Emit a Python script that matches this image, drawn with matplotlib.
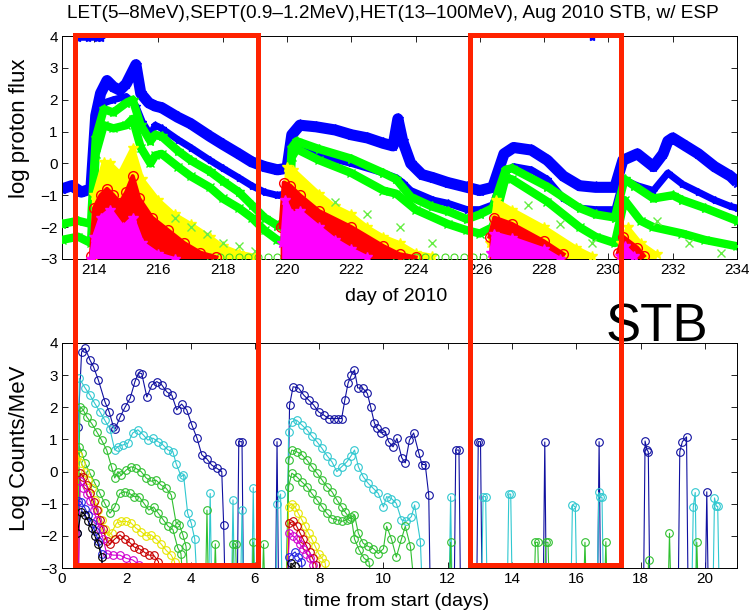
import numpy as np
import matplotlib
matplotlib.use("Agg")
import matplotlib.pyplot as plt
from matplotlib.patches import Rectangle

plt.rcParams['font.family'] = ['Liberation Sans', 'DejaVu Sans']

# ---------------- top panel data (day of 2010, log proton flux) ----------------
blue_hi_d = [213.0, 213.3, 213.6, 213.9, 214.05, 214.2, 214.4, 214.6, 214.8, 215.0, 215.2, 215.3, 215.45, 215.7, 215.9,
             216.1, 216.6, 217.0, 217.6, 218.0, 218.5, 218.9, 219.3, 219.7, 220.0, 220.15, 220.4, 220.9, 221.5, 222.0,
             222.5, 223.0, 223.3, 223.45, 223.6, 223.85, 224.2, 224.55, 225.0, 225.6, 226.0, 226.4, 226.75, 227.05,
             227.6, 228.1, 228.6, 229.1, 229.6, 230.2, 230.45, 230.9, 231.4, 231.7, 231.85, 232.0, 232.4, 232.8,
             233.3, 233.8, 234.0]
blue_hi_v = [-0.8, -0.7, -0.9, -0.8, 1.5, 2.2, 2.6, 2.4, 2.3, 2.5, 2.9, 3.1, 2.2, 1.9, 1.8,
             1.75, 1.45, 1.25, 0.85, 0.6, 0.3, 0.05, -0.1, -0.2, -0.15, 0.9, 1.2, 1.15, 1.05, 0.9,
             0.8, 0.63, 0.55, 1.4, 0.7, 0.0, -0.35, -0.45, -0.6, -0.75, -0.85, -0.75, 0.3, 0.5,
             0.42, 0.1, -0.4, -0.7, -0.75, -0.75, 0.1, 0.3, -0.1, 0.3, 0.7, 0.8, 0.55, 0.3,
             -0.1, -0.4, -0.6]

blue_lo_d = [214.05, 214.3, 214.6, 215.0, 215.3, 215.5, 215.75, 215.9, 216.1, 216.6, 217.0, 217.6, 218.0, 218.5,
             218.9, 219.3, 219.7, 220.0, 220.15, 220.3, 221.0, 222.0, 223.0, 223.4, 223.6, 223.85, 224.55, 225.0,
             225.6, 226.0, 226.4, 226.75, 227.05, 227.6, 228.1, 228.6, 229.1, 229.6, 230.2, 230.45, 230.9, 231.4,
             231.85, 232.3, 232.8, 233.3, 233.8, 234.0]
blue_lo_v = [1.2, 1.9, 2.0, 2.1, 1.8, 1.3, 0.9, 1.2, 1.1, 0.75, 0.5, 0.1, -0.15, -0.45,
             -0.7, -0.9, -1.0, -0.95, 0.3, 0.45, 0.25, 0.0, -0.3, -0.45, -0.6, -0.85, -1.15, -1.25,
             -1.45, -1.45, -1.3, -0.3, -0.1, -0.2, -0.5, -1.1, -1.4, -1.45, -1.45, -0.5, -0.7, -0.85,
             -0.3, -0.65, -0.9, -1.15, -1.35, -1.4]

green_hi_d = [213.0, 213.5, 213.9, 214.05, 214.3, 214.6, 215.0, 215.2, 215.45, 215.75, 215.9, 216.1, 216.6, 217.0,
              217.6, 218.0, 218.5, 218.9, 219.3, 219.7, 220.0, 220.15, 220.3, 221.0, 222.0, 223.0, 223.4, 223.85,
              224.5, 225.0, 225.6, 226.0, 226.4, 226.8, 227.0, 228.1, 229.1, 229.6, 230.2, 230.5, 230.8, 231.4,
              232.0, 232.3, 233.0, 234.0]
green_hi_v = [-1.9, -1.8, -1.9, 0.8, 1.7, 1.6, 1.9, 2.0, 1.2, 0.7, 0.9, 0.85, 0.4, 0.1,
              -0.25, -0.55, -0.9, -1.3, -1.7, -1.95, -1.8, 0.5, 0.7, 0.45, 0.15, -0.3, -0.5, -1.05,
              -1.35, -1.5, -1.75, -1.6, -1.4, -0.2, -0.15, -0.73, -1.4, -1.6, -1.7, -0.5, -0.7, -1.1,
              -1.0, -1.15, -1.4, -1.8]

green_lo_d = [213.0, 213.5, 213.9, 214.05, 214.3, 214.6, 215.0, 215.2, 215.45, 215.75, 215.9, 216.1, 216.6, 217.0,
              217.6, 218.0, 218.5, 218.9, 219.3, 219.7, 220.0, 220.15, 220.3, 221.0, 222.0, 223.0, 223.4, 224.0,
              225.0, 225.6, 226.0, 226.4, 226.8, 227.0, 228.1, 229.1, 229.6, 230.2, 230.5, 231.0, 231.4, 232.3,
              233.0, 234.0]
green_lo_v = [-2.4, -2.3, -2.5, 0.3, 1.2, 1.1, 1.2, 1.4, 0.5, 0.0, 0.25, 0.3, -0.1, -0.4,
              -0.75, -1.1, -1.4, -1.7, -2.1, -2.4, -2.5, 0.2, 0.45, 0.1, -0.3, -0.85, -0.95, -1.45,
              -1.9, -2.1, -2.2, -2.0, -0.45, -0.5, -1.2, -2.0, -2.3, -2.5, -1.15, -1.8, -2.0, -2.2,
              -2.4, -2.6]

yellow_d = [213.95, 214.0, 214.3, 214.5, 214.8, 215.2, 215.5, 216.0, 216.5, 217.0, 217.6, 218.0, 218.5, 219.0, np.nan,
            219.9, 220.0, 220.2, 221.0, 221.5, 222.0, 222.5, 223.0, 223.5, 224.0, 224.5, np.nan,
            226.3, 226.5, 227.0, 228.0, 229.0, 229.5, np.nan, 230.4, 230.6, 231.0, 231.5]
yellow_v = [-3.0, -1.0, 0.05, 0.0, -0.3, 0.5, -0.5, -1.15, -1.6, -1.9, -2.3, -2.6, -2.8, -2.9, np.nan,
            -2.5, -0.1, -0.2, -0.95, -1.35, -1.6, -2.0, -2.3, -2.5, -2.8, -2.9, np.nan,
            -2.5, -1.15, -1.45, -2.0, -2.65, -2.9, np.nan, -2.5, -2.0, -2.5, -2.85]

red_d = [213.9, 214.0, 214.2, 214.4, 214.6, 214.8, 215.0, 215.2, 215.4, 215.8, 216.3, 216.8, 217.3, 217.8, np.nan,
         219.8, 219.9, 220.1, 220.4, 221.0, 222.0, 223.0, 223.5, 224.0, np.nan,
         226.3, 226.45, 227.0, 228.0, 228.6, np.nan, 230.3, 230.45, 230.9, 231.1]
red_v = [-2.9, -1.4, -1.0, -0.8, -1.0, -1.25, -0.9, -0.4, -1.1, -1.7, -2.1, -2.5, -2.8, -2.95, np.nan,
         -2.0, -0.6, -0.7, -1.0, -1.5, -2.0, -2.6, -2.85, -2.95, np.nan,
         -2.3, -1.7, -1.9, -2.45, -2.85, np.nan, -2.8, -2.3, -2.65, -2.9]

mag_d = [213.9, 214.0, 214.2, 214.5, 214.9, 215.2, 215.5, 216.0, 216.5, np.nan,
         219.85, 219.95, 220.15, 220.4, 221.0, 221.5, 222.0, 222.5, np.nan,
         226.35, 226.45, 227.0, 228.0, 228.5, np.nan, 230.35, 230.5, 230.8]
mag_v = [-3.0, -2.3, -1.7, -1.45, -2.0, -1.7, -2.5, -2.85, -3.0, np.nan,
         -2.5, -1.15, -1.6, -1.5, -2.0, -2.4, -2.7, -2.95, np.nan,
         -2.8, -2.2, -2.35, -2.7, -3.0, np.nan, -2.9, -2.6, -2.9]

greenx_d = [216.5, 217.0, 217.5, 218.0, 218.5, 219.0, 221.5, 222.5, 223.5, 224.5, 227.5, 228.5, 229.5,
            231.5, 232.5, 233.5]
greenx_v = [-1.7, -2.0, -2.2, -2.5, -2.6, -2.75, -1.2, -1.6, -2.0, -2.5, -1.3, -1.9, -2.5,
            -1.8, -2.5, -2.8]

floor_d = [217.6, 217.9, 218.2, 218.5, 218.8, 219.1, 219.4, 219.7, 223.4, 223.7, 224.0, 224.3, 224.6,
           224.9, 225.2, 225.5, 225.8, 226.1]
floor_v = [-2.93, -2.93, -2.93, -2.93, -2.93, -2.93, -2.93, -2.93, -2.93, -2.93, -2.93, -2.93, -2.93,
           -2.93, -2.93, -2.93, -2.93, -2.93]

sat_d = [213.5, 213.8, 214.1, 214.2, np.nan, 229.5]
sat_v = [3.95, 3.95, 3.95, 3.95, np.nan, 3.98]

# ---------------- bottom panel data (days from start, log counts/MeV) ----------------
navy_t = [0.40, 0.48, 0.50, 0.61, 0.72, 0.87, 0.98, 1.13, 1.34, 1.47, 1.60, 1.65, 1.81, 1.96, 2.12, 2.27, 2.38, 2.48,
          2.64, 2.80, 2.95, 3.10, 3.26, 3.42, 3.57, 3.72, 3.88, 4.04, 4.20, 4.35, 4.50, 4.66, 4.82, 4.97, 5.03, 5.08,
          5.45, 5.50, 5.60, 5.65,
          6.64, 6.69, 6.74,
          6.98, 7.08, 7.19, 7.36, 7.52, 7.67, 7.83, 7.98, 8.14, 8.30, 8.45, 8.60, 8.70, 8.80, 8.90, 9.00, 9.10, 9.20,
          9.35, 9.50, 9.60, 9.72, 9.80, 9.93, 10.06, 10.16, 10.30, 10.42, 10.57, 10.68, 10.81, 10.94, 11.10, 11.20,
          11.30, 11.41, 11.46,
          12.20, 12.25, 12.35, 12.40,
          12.90, 12.95, 13.02, 13.07,
          14.97, 15.02, 15.07,
          16.66, 16.71, 16.76,
          18.09, 18.14, 18.20, 18.24, 18.29,
          19.17, 19.22, 19.30, 19.43, 19.48,
          20.01, 20.06, 20.11]
navy_v = [-4, -1.9, 1.4, 3.72, 3.84, 3.47, 3.26, 2.85, 2.16, 1.85, 1.39, 1.32, 1.7, 2.0, 2.28, 2.8, 3.07, 3.05,
          2.32, 2.7, 2.8, 2.7, 2.48, 2.37, 1.92, 2.1, 1.92, 1.45, 1.04, 0.52, 0.4, 0.2, 0.1, 0.0, -1.66, -4,
          -4, 0.93, 0.93, -4,
          -4, 0.93, -4,
          -4, 2.07, 2.64, 2.6, 2.38, 2.23, 2.07, 1.86, 1.76, 1.65, 1.65, 1.65, 1.65, 2.23, 2.75, 3.0, 3.16, 2.6,
          2.6, 2.43, 2.02, 1.51, 1.35, 1.2, 1.25, 0.93, 0.77, 1.03, 0.43, 0.27, 0.98, 1.2, 0.58, 0.22,
          0.22, -0.73, -4,
          -4, 0.67, 0.67, -4,
          -4, 0.93, 0.93, -4,
          -4, 0.92, -4,
          -4, 0.93, -4,
          -4, 0.95, 0.67, 0.62, -4,
          -4, 0.62, 0.93, 1.08, -4,
          -4, -0.63, -4]

cyan_t = [0.45, 0.54, 0.72, 0.87, 1.02, 1.18, 1.33, 1.49, 1.64, 1.74, 1.90, 2.05, 2.20, 2.36, 2.52, 2.67, 2.83, 2.99,
          3.14, 3.30, 3.45, 3.55, 3.71, 3.78, 3.91, 4.02, 4.13, 4.23,
          4.56, 4.61, 4.66,
          5.27, 5.32, 5.37,
          5.55, 5.60, 5.65,
          5.90, 5.95, 6.00,
          6.65, 6.70, 6.80, 6.85,
          6.98, 7.05, 7.15, 7.30, 7.46, 7.62, 7.77, 7.93, 8.09, 8.24, 8.40, 8.55, 8.70, 8.86, 9.00, 9.10, 9.22, 9.37,
          9.53, 9.69, 9.84, 10.00, 10.10, 10.25, 10.40, 10.56, 10.71, 10.87, 10.97, 11.15, 11.22,
          12.04, 12.09, 12.14,
          13.05, 13.10, 13.18, 13.23,
          13.85, 13.90, 13.96, 14.01,
          15.83, 15.88, 15.97, 16.02,
          16.65, 16.70, 16.74, 16.80, 16.85,
          19.59, 19.64, 19.70, 19.75,
          20.25, 20.30, 20.36, 20.40, 20.45]
cyan_v = [-4, 2.9, 2.6, 2.38, 2.12, 1.86, 1.6, 1.33, 0.67, 0.78, 0.83, 0.88, 1.2, 1.3, 1.15, 0.98, 1.04, 0.93,
          0.83, 0.67, 0.62, 0.25, -0.16, -0.1, -1.3, -1.6, -2.1, -4,
          -4, -0.68, -4,
          -4, -0.88, -4,
          -4, -1.2, -4,
          -4, -0.5, -4,
          -4, -1.0, -0.7, -4,
          -4, 1.24, 1.55, 1.6, 1.45, 1.3, 1.1, 0.93, 0.72, 0.5, 0.3, 0.0, 0.15, 0.3, 0.5, 0.67, 0.15, -0.16,
          -0.37, -0.53, -0.68, -1.1, -0.78, -0.84, -0.99, -1.5, -1.55, -1.4, -1.04, -2.18, -4,
          -4, -0.78, -4,
          -4, -0.78, -0.78, -4,
          -4, -0.7, -0.7, -4,
          -4, -1.04, -1.1, -4,
          -4, -0.65, -0.8, -0.8, -4,
          -4, -1.1, -0.65, -4,
          -4, -0.82, -1.08, -1.08, -4]

g1_t = [0.45, 0.56, 0.66, 0.77, 0.92, 1.08, 1.23, 1.39, 1.54, 1.64, 1.74, 1.85, 2.00, 2.15, 2.30, 2.46, 2.62, 2.77,
        2.93, 3.08, 3.24, 3.40, 3.55, 3.65, 3.76, 3.86, 3.95,
        4.46, 4.51, 4.56,
        4.72, 4.77, 4.82,
        5.28, 5.33, 5.40, 5.45,
        5.90, 5.95, 6.00,
        6.22, 6.27, 6.32,
        6.98, 7.05, 7.15, 7.30, 7.46, 7.62, 7.77, 7.93, 8.09, 8.24, 8.40, 8.55, 8.70, 8.80, 8.96, 9.10, 9.22, 9.37,
        9.53, 9.69, 9.84, 10.00, 10.10, 10.25, 10.40, 10.56, 10.68, 10.84, 11.00,
        12.04, 12.09, 12.14,
        14.68, 14.73, 14.80, 14.85,
        15.00, 15.05, 15.12, 15.17,
        16.22, 16.27, 16.32,
        16.87, 16.92, 16.97,
        18.20, 18.25, 18.30,
        18.85, 18.90, 18.95,
        19.70, 19.75, 19.80]
g1_v = [-4, 2.02, 1.92, 1.7, 1.5, 1.24, 0.98, 0.67, 0.15, -0.2, 0.0, -0.11, 0.05, 0.15, 0.1, 0.0, -0.2, -0.3,
        -0.27, -0.42, -0.52, -0.73, -1.6, -1.65, -1.97, -2.33, -4,
        -4, -1.2, -4,
        -4, -2.25, -4,
        -4, -2.25, -2.25, -4,
        -4, -2.2, -4,
        -4, -2.25, -4,
        -4, 0.36, 0.67, 0.62, 0.52, 0.36, 0.15, -0.05, -0.26, -0.47, -0.63, -0.88, -1.1, -1.25, -1.46, -1.35,
        -1.92, -2.23, -2.33, -2.4, -2.55, -2.4, -1.7, -2.1, -2.66, -2.1, -1.7, -2.33, -4,
        -4, -2.2, -4,
        -4, -2.2, -2.2, -4,
        -4, -2.2, -2.2, -4,
        -4, -2.2, -4,
        -4, -2.18, -4,
        -4, -2.75, -4,
        -4, -1.92, -4,
        -4, -2.2, -4]

g2_t = [0.45, 0.54, 0.62, 0.72, 0.87, 1.02, 1.18, 1.33, 1.49, 1.64, 1.80, 1.95, 2.10, 2.25, 2.40, 2.55, 2.70, 2.85,
        3.00, 3.15, 3.30, 3.45, 3.60, 3.70, 3.80,
        6.98, 7.05, 7.15, 7.30, 7.46, 7.62, 7.77, 7.93, 8.09, 8.24, 8.40, 8.55, 8.70, 8.86, 9.00, 9.10, 9.25,
        9.40, 9.55, 9.70]
g2_v = [-4, 0.78, 0.57, 0.26, -0.05, -0.36, -0.68, -0.99, -1.3, -1.1, -0.68, -0.63, -0.68, -0.78, -0.78, -0.99,
        -1.2, -1.1, -1.3, -1.5, -1.7, -1.8, -2.37, -2.55, -4,
        -4, -0.47, -0.05, -0.16, -0.32, -0.47, -0.68, -0.88, -1.1, -1.3, -1.46, -1.5, -1.55, -1.5, -1.4, -2.1,
        -2.45, -2.7, -2.8, -4]

yel_t = [0.45, 0.50, 0.60, 0.71, 0.82, 0.92, 1.02, 1.12, 1.23, 1.33, 1.44, 1.54, 1.70, 1.85, 2.00, 2.15, 2.30,
         2.46, 2.62, 2.77, 2.93, 3.08, 3.24, 3.40, 3.50, 3.60,
         6.98, 7.05, 7.15, 7.25, 7.35, 7.46, 7.56, 7.67, 7.77, 7.88, 7.98, 8.09, 8.19, 8.26]
yel_v = [-4, 0.52, 0.26, 0.0, -0.26, -0.52, -0.88, -1.2, -1.5, -1.8, -2.0, -1.9, -1.6, -1.55, -1.55, -1.6, -1.76,
         -1.87, -2.0, -1.97, -2.1, -2.25, -2.45, -2.6, -2.8, -4,
         -4, -1.1, -1.0, -1.1, -1.3, -1.5, -1.7, -1.92, -2.1, -2.33, -2.55, -2.7, -2.85, -4]

red_t = [0.50, 0.56, 0.66, 0.77, 0.87, 0.98, 1.08, 1.18, 1.28, 1.39, 1.49, 1.64, 1.80, 1.95, 2.10, 2.25, 2.40,
         2.55, 2.70, 2.85, 3.00, 3.10,
         7.00, 7.07, 7.20, 7.30, 7.40, 7.50, 7.60, 7.70, 7.80, 7.90, 7.98]
red_vb = [-4, -0.05, -0.16, -0.42, -0.68, -0.94, -1.2, -1.5, -1.8, -2.17, -2.25, -2.1, -1.97, -2.1, -2.2, -2.35,
          -2.4, -2.5, -2.6, -2.6, -2.8, -4,
          -4, -1.6, -1.55, -1.7, -1.9, -2.1, -2.3, -2.5, -2.7, -2.9, -4]

mag_t = [0.50, 0.56, 0.66, 0.77, 0.87, 0.98, 1.08, 1.18, 1.28, 1.39, 1.59, 1.80, 2.00, 2.20, 2.40, 2.50,
         7.00, 7.07, 7.18, 7.30, 7.40, 7.50, 7.60, 7.70, 7.80, 7.88]
mag_vb = [-4, -0.3, -0.5, -0.7, -0.9, -1.2, -1.5, -1.8, -2.1, -2.55, -2.6, -2.6, -2.7, -2.75, -2.9, -4,
          -4, -1.9, -2.0, -2.1, -2.25, -2.4, -2.55, -2.7, -2.9, -4]

blu_t = [0.45, 0.50, 0.60, 0.72, 0.82, 0.92, 1.02, 1.13, 1.23, 1.33,
         7.00, 7.07, 7.25, 7.35, 7.45, 7.55]
blu_v = [-4, -0.9, -0.95, -1.15, -1.35, -1.6, -1.85, -2.15, -2.55, -4,
         -4, -2.65, -2.5, -2.65, -2.8, -4]

blk_t = [0.45, 0.48, 0.60, 0.72, 0.82, 0.92, 1.02, 1.12, 1.23, 1.33, 7.05, 7.12, 7.25, 7.35]
blk_v = [-4, -1.9, -1.25, -1.35, -1.55, -1.75, -2.0, -2.25, -2.65, -4, -4, -2.85, -2.95, -4]

top_xticks = [214, 216, 218, 220, 222, 224, 226, 228, 230, 232, 234]
bot_xticks = [0, 2, 4, 6, 8, 10, 12, 14, 16, 18, 20]
yticks = [-3, -2, -1, 0, 1, 2, 3, 4]

# ---------------- figure ----------------
W, H = 750, 616
fig = plt.figure(figsize=(W / 100, H / 100), dpi=100)


def fx(px):
    return px / W


def fy(py):
    return 1 - py / H


ax1 = fig.add_axes([fx(62), fy(259), fx(737) - fx(62), fy(36) - fy(259)])
ax2 = fig.add_axes([fx(62), fy(568), fx(737) - fx(62), fy(343) - fy(568)])

BLUE = '#0000ff'
GREEN = '#00ff00'
YEL = '#ffff00'
RED = '#ff0000'
MAG = '#ff00ff'

# top panel
ax1.plot(blue_hi_d, blue_hi_v, color=BLUE, lw=8, solid_joinstyle='round', solid_capstyle='butt', zorder=2)
ax1.plot(blue_hi_d, blue_hi_v, ls='none', marker='*', ms=8, color=BLUE, zorder=2)
ax1.plot(blue_lo_d, blue_lo_v, color=BLUE, lw=5, solid_joinstyle='round', zorder=2)
ax1.plot(blue_lo_d, blue_lo_v, ls='none', marker='*', ms=6, color=BLUE, zorder=2)
ax1.plot(green_hi_d, green_hi_v, color=GREEN, lw=6, solid_joinstyle='round', zorder=3)
ax1.plot(green_hi_d, green_hi_v, ls='none', marker='*', ms=7, color=GREEN, zorder=3)
ax1.plot(green_lo_d, green_lo_v, color=GREEN, lw=6, solid_joinstyle='round', zorder=3)
ax1.plot(green_lo_d, green_lo_v, ls='none', marker='x', ms=6, color=GREEN, zorder=3)

ax1.fill_between(yellow_d, yellow_v, -3, color=YEL, lw=0, zorder=4)
ax1.plot(yellow_d, yellow_v, color=YEL, lw=3, marker='*', ms=7, zorder=4)
ax1.plot(greenx_d, greenx_v, ls='none', marker='x', ms=6, mew=1, color='#66ee44', zorder=4)
ax1.fill_between(red_d, red_v, -3, color=RED, lw=0, zorder=5)
ax1.plot(red_d, red_v, color=RED, lw=3, marker='o', ms=7, mfc='none', mew=1, zorder=5)
ax1.fill_between(mag_d, mag_v, -3, color=MAG, lw=0, zorder=6)
ax1.plot(mag_d, mag_v, color=MAG, lw=3, marker='*', ms=7, zorder=6)
ax1.plot(floor_d, floor_v, ls='none', marker='o', ms=5, mfc='none', mew=0.8, color='#44dd22', zorder=4)
ax1.plot(sat_d, sat_v, color=BLUE, lw=4, marker='*', ms=6, zorder=2)

ax1.set_xlim(213, 234)
ax1.set_ylim(-3, 4)
ax1.set_xticks(top_xticks)
ax1.set_yticks(yticks)

# bottom panel
series = [
    (navy_t, navy_v, '#1010a0'),
    (cyan_t, cyan_v, '#30c8d0'),
    (g1_t, g1_v, '#30c030'),
    (g2_t, g2_v, '#30c030'),
    (yel_t, yel_v, '#e6e600'),
    (red_t, red_vb, '#c80000'),
    (mag_t, mag_vb, '#d000d0'),
    (blu_t, blu_v, '#2020e0'),
    (blk_t, blk_v, '#000000'),
]
for t, v, c in series:
    if len(t) != len(v):
        raise ValueError('length mismatch for %s: %d vs %d' % (c, len(t), len(v)))
    ax2.plot(t, v, color=c, lw=0.8, marker='o', ms=5.5, mfc='none', mew=0.8)

ax2.set_xlim(0, 21)
ax2.set_ylim(-3, 4)
ax2.set_xticks(bot_xticks)
ax2.set_yticks(yticks)

for ax in (ax1, ax2):
    ax.tick_params(direction='in', top=True, right=True, length=4, width=0.6, labelsize=11, pad=3)
    for s in ax.spines.values():
        s.set_linewidth(0.7)

fig.text(fx(393), fy(14), 'LET(5\u20138MeV),SEPT(0.9\u20131.2MeV),HET(13\u2013100MeV), Aug 2010 STB, w/ ESP',
         ha='center', va='center', fontsize=13.7)
fig.text(fx(20), fy(128), 'log proton flux', rotation=90, ha='center', va='center', fontsize=16)
fig.text(fx(20), fy(448), 'Log Counts/MeV', rotation=90, ha='center', va='center', fontsize=16)
fig.text(fx(396), fy(296), 'day of 2010', ha='center', va='center', fontsize=14)
fig.text(fx(397), fy(602), 'time from start (days)', ha='center', va='center', fontsize=14)
fig.text(fx(657), fy(327), 'STB', ha='center', va='center', fontsize=38)

# red highlight boxes
for (x0, x1) in [(75, 258), (470, 621)]:
    fig.patches.append(Rectangle((fx(x0), fy(565)), fx(x1) - fx(x0), fy(35) - fy(565), transform=fig.transFigure,
                                 fill=False, edgecolor='#ff2200', lw=3.6, zorder=10))

fig.savefig('out.png', dpi=100)
